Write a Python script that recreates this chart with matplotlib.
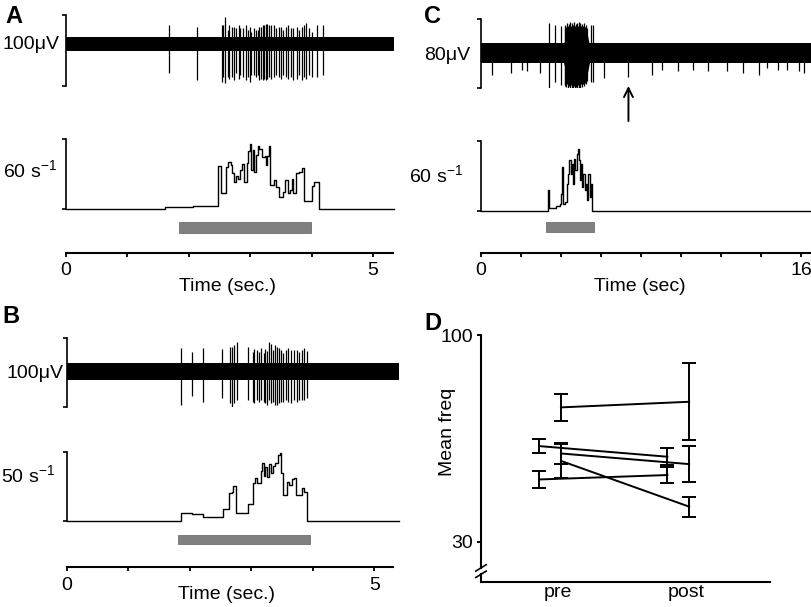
import matplotlib
matplotlib.use('Agg')
import matplotlib.pyplot as plt
from matplotlib.patches import Rectangle
from matplotlib.lines import Line2D
from matplotlib.transforms import blended_transform_factory

plt.rcParams['font.family'] = ['Liberation Sans', 'DejaVu Sans']
plt.rcParams['mathtext.fontset'] = 'custom'
plt.rcParams['mathtext.rm'] = 'Liberation Sans'
plt.rcParams['mathtext.it'] = 'Liberation Sans:italic'
plt.rcParams['mathtext.bf'] = 'Liberation Sans:bold'
plt.rcParams['font.size'] = 14

# ---------------- data ----------------
# Panel A: spikes (time s, peak uV, trough uV), rate steps (s, 1/s), stimulus (s)
spk_A_t = [1.67, 2.13, 2.54, 2.56, 2.59, 2.63, 2.66, 2.70, 2.74, 2.77,
           2.81, 2.84, 2.88, 2.93, 2.96, 3.00, 3.02, 3.06, 3.09, 3.12,
           3.15, 3.18, 3.20, 3.23, 3.26, 3.28, 3.31, 3.34, 3.38, 3.42,
           3.46, 3.50, 3.53, 3.58, 3.62, 3.66, 3.70, 3.76, 3.79, 3.84,
           3.88, 3.91, 3.95, 4.00, 4.08, 4.18]
spk_A_hi = [27, 24, 27, 27, 38, 20, 27, 24, 24, 22, 27, 22, 22, 27, 20, 24,
            17, 22, 20, 20, 24, 24, 27, 27, 28, 28, 27, 27, 27, 22, 24, 24,
            20, 24, 27, 22, 22, 24, 20, 24, 27, 29, 22, 17, 27, 27]
spk_A_lo = [-41, -51, -54, -47, -55, -47, -49, -47, -51, -41, -49, -44, -47,
            -51, -47, -53, -44, -44, -47, -44, -51, -49, -51, -49, -51, -49,
            -47, -49, -47, -44, -47, -49, -44, -47, -49, -47, -51, -49, -44,
            -51, -47, -49, -44, -47, -47, -44]
rate_A_t = [0, 1.61, 2.07, 2.48, 2.52, 2.61, 2.64, 2.68, 2.70, 2.74,
            2.77, 2.80, 2.83, 2.87, 2.90, 2.94, 2.97, 2.99, 3.01, 3.04,
            3.06, 3.09, 3.12, 3.15, 3.19, 3.24, 3.26, 3.28, 3.30, 3.32,
            3.39, 3.42, 3.46, 3.54, 3.57, 3.61, 3.64, 3.68, 3.70, 3.74,
            3.80, 3.84, 3.87, 4.01, 4.04, 4.12, 5.34]
rate_A = [0, 1.7, 2.8, 37, 13.7, 36.4, 40.6, 37.8, 30.8, 23.7,
          28, 25.7, 33.7, 38.5, 23.7, 39.9, 49.4, 56, 33.7, 50.2,
          31.5, 46.5, 54.2, 51.3, 45, 45.6, 37.8, 45.6, 53.6, 20.8,
          25.1, 19.4, 10.8, 15.1, 25.1, 13.7, 16.6, 25.7, 13.7, 30.8,
          32.2, 35.1, 7.1, 20, 23.7, 0, 0]
stim_A = (1.845, 3.985)

# Panel B
spk_B_t = [1.85, 2.03, 2.21, 2.53, 2.65, 2.68, 2.72, 2.76, 2.94, 3.02,
           3.05, 3.09, 3.13, 3.16, 3.20, 3.23, 3.26, 3.29, 3.32, 3.35,
           3.38, 3.41, 3.45, 3.48, 3.52, 3.56, 3.60, 3.65, 3.69, 3.74,
           3.78, 3.82, 3.86, 3.91]
spk_B_hi = [35, 28, 34, 33, 36, 36, 39, 44, 36, 29, 33, 32, 29, 34, 27, 33,
            30, 43, 41, 32, 39, 36, 34, 32, 27, 32, 34, 32, 32, 32, 29, 32,
            35, 30]
spk_B_lo = [-49, -36, -44, -39, -46, -51, -46, -41, -41, -44, -46, -41, -44,
            -41, -44, -46, -49, -41, -46, -44, -49, -49, -46, -44, -44, -41,
            -44, -46, -41, -44, -41, -41, -41, -39]
rate_B_t = [0, 1.86, 2.04, 2.22, 2.54, 2.64, 2.68, 2.71, 2.75, 2.94,
            3.02, 3.06, 3.10, 3.16, 3.18, 3.21, 3.23, 3.25, 3.28, 3.32,
            3.36, 3.39, 3.43, 3.46, 3.48, 3.52, 3.58, 3.62, 3.66, 3.69,
            3.72, 3.82, 3.86, 3.90, 5.40]
rate_B = [0, 5.3, 4.8, 2.9, 8.2, 19.8, 21, 25.4, 5.3, 12.1,
          27.5, 30.7, 27.5, 36.2, 42, 32.4, 39.1, 31.4, 41, 34.3,
          39.6, 41.5, 47.6, 48.8, 34.3, 18.6, 28.3, 25.8, 29.9, 30.7,
          18.6, 23.4, 21, 0, 0]
stim_B = (1.815, 3.956)

# Panel C
spk_C_t = [0.57, 1.48, 2.03, 2.28, 2.95, 3.40, 3.72, 3.98, 4.18, 4.22,
           4.27, 4.32, 4.36, 4.41, 4.46, 4.51, 4.55, 4.60, 4.65, 4.69,
           4.74, 4.79, 4.83, 4.88, 4.93, 4.97, 5.02, 5.07, 5.11, 5.16,
           5.21, 5.25, 5.30, 5.48, 5.60, 6.15, 7.37, 8.53, 9.07, 9.87,
           10.58, 11.37, 12.32, 13.08, 13.92, 14.28, 14.87, 15.28, 15.92, 16.15]
spk_C_hi = [0, 0, 0, 0, 0, 35, 33, 31, 29, 33,
            30, 35, 31, 34, 36, 32, 35, 33, 36, 31,
            34, 35, 32, 36, 33, 35, 31, 34, 32, 35,
            30, 33, 29, 33, 33, 0, 0, 0, 0, 0,
            0, 0, 0, 0, 0, 0, 0, 0, 0, 0]
spk_C_lo = [-25, -23, -19, -21, -23, -40, -33, -37, -38, -36,
            -39, -35, -40, -38, -41, -37, -40, -42, -38, -41,
            -39, -42, -37, -40, -38, -41, -36, -39, -35, -38,
            -34, -36, -32, -33, -33, -29, -27, -25, -19, -21,
            -19, -21, -21, -23, -25, -17, -19, -19, -21, -23]
# dense core of the burst in C (envelope)
env_C_t = [4.12, 4.25, 4.37, 4.53, 4.70, 4.87, 5.03, 5.20, 5.33, 5.42]
env_C_hi = [10, 20, 24, 26, 27, 27, 26, 25, 20, 10]
env_C_lo = [-10, -22, -27, -30, -31, -32, -30, -28, -22, -11]
rate_C_t = [0, 3.33, 3.42, 3.75, 3.95, 4.00, 4.05, 4.12, 4.20, 4.28,
            4.37, 4.42, 4.48, 4.53, 4.58, 4.65, 4.72, 4.78, 4.83, 4.88,
            4.95, 5.00, 5.05, 5.12, 5.18, 5.25, 5.32, 5.37, 5.43, 5.50,
            5.57, 16.5]
rate_C = [0, 18.1, 2.6, 3.7, 6, 14.6, 37.6, 6, 7.5, 23.2,
          31.9, 43.3, 31.9, 40.5, 23.2, 44.8, 34.7, 49.1, 53.4, 43.3,
          26.1, 40.5, 20.4, 31.9, 17.5, 23.2, 8.9, 31.9, 11.8, 23.2,
          0, 0]
stim_C = (3.25, 5.635)
arrow_C_t = 7.37

# Panel D: mean freq pre / post with error
groups = ['pre', 'post']
pre_mean = [75.5, 62.4, 59.9, 57.4, 51.1]
pre_err = [4.6, 2.3, 3.7, 5.8, 2.8]
post_mean = [77.4, 58.8, 56.3, 41.9, 52.6]
post_err = [13.0, 2.8, 6.0, 3.4, 2.7]
x_offset = [0.02, -0.15, 0.02, 0.02, -0.15]

# ---------------- figure ----------------
W, H = 812, 607
fig = plt.figure(figsize=(W / 100, H / 100), dpi=100)


def px_box(x0, x1, y0, y1):
    # pixel box (top-left origin) -> figure fraction
    return [x0 / W, 1 - y1 / H, (x1 - x0) / W, (y1 - y0) / H]


def label(x, y, s, **kw):
    fig.text(x / W, 1 - y / H, s, **kw)


def bar_axes(x0, x1, y0, y1, tmax, ylim):
    # axes whose left spine is a scale bar
    ax = fig.add_axes(px_box(x0, x1, y0, y1))
    ax.set_xlim(0, tmax)
    ax.set_ylim(ylim)
    for s in ('top', 'right', 'bottom'):
        ax.spines[s].set_visible(False)
    ax.spines['left'].set_linewidth(1.2)
    ax.set_xticks([])
    ax.set_yticks(ylim)
    ax.tick_params(axis='y', length=3, width=1.2, labelleft=False)
    ax.patch.set_alpha(0)
    return ax


def raw_trace(ax, tmax, band, spk_t, spk_hi, spk_lo):
    ax.fill_between([0, tmax], -band, band, color='k', lw=0)
    ax.vlines(spk_t, spk_lo, spk_hi, color='k', lw=0.9)


def stim_bar(ax, stim, ytop, ybot):
    tr = blended_transform_factory(ax.transData, fig.transFigure)
    ax.add_patch(Rectangle((stim[0], 1 - ybot / H), stim[1] - stim[0],
                           (ybot - ytop) / H, transform=tr, clip_on=False,
                           facecolor='#808080', edgecolor='#707070', lw=0.6))


def time_axis(x0, x1, y, tmax, ticks, labels, pad):
    ax = fig.add_axes(px_box(x0, x1, y - 10, y))
    ax.set_xlim(0, tmax)
    for s in ('top', 'right', 'left'):
        ax.spines[s].set_visible(False)
    ax.spines['bottom'].set_linewidth(1.5)
    ax.set_yticks([])
    ax.set_xticks(ticks, labels)
    ax.tick_params(axis='x', length=3, width=1.3, pad=pad, labelsize=14)
    ax.patch.set_alpha(0)
    return ax


# ----- A -----
axA = bar_axes(66, 394, 15, 86, 5.34, (-59.2, 40.8))
raw_trace(axA, 5.34, 10.5, spk_A_t, spk_A_hi, spk_A_lo)
axA2 = bar_axes(66, 394, 139, 209.3, 5.34, (0, 60))
axA2.step(rate_A_t, rate_A, where='post', color='k', lw=1.0, clip_on=False)
stim_bar(axA2, stim_A, 222, 232.7)
time_axis(66, 393.3, 253.3, 5.33, range(6), ['0', '', '', '', '', '5'], 3.5)
label(5, 23.3, 'A', fontsize=17, fontweight='bold', va='baseline')
label(60, 49.3, '100μV', ha='right', va='baseline')
label(57, 176.7, '60 s$^{-1}$', ha='right', va='baseline')
label(228, 291, 'Time (sec.)', ha='center', va='baseline')

# ----- B -----
axB = bar_axes(66.7, 399, 338, 406.7, 5.40, (-51.0, 49.1))
raw_trace(axB, 5.40, 12, spk_B_t, spk_B_hi, spk_B_lo)
axB2 = bar_axes(66.7, 399, 451.7, 520.7, 5.40, (0, 50))
axB2.step(rate_B_t, rate_B, where='post', color='k', lw=1.0, clip_on=False)
stim_bar(axB2, stim_B, 535, 544.3)
time_axis(66.7, 392.7, 566.7, 5.30, range(6), ['0', '', '', '', '', '5'], 4.3)
label(2, 323.3, 'B', fontsize=17, fontweight='bold', va='baseline')
label(64, 378.3, '100μV', ha='right', va='baseline')
label(55, 481.7, '50 s$^{-1}$', ha='right', va='baseline')
label(227, 599, 'Time (sec.)', ha='center', va='baseline')

# ----- C -----
axC = bar_axes(481, 811.7, 19, 88.3, 16.53, (-40.4, 39.6))
raw_trace(axC, 16.53, 11.5, spk_C_t, spk_C_hi, spk_C_lo)
axC.fill_between(env_C_t, env_C_lo, env_C_hi, color='k', lw=0)
trC = blended_transform_factory(axC.transData, fig.transFigure)
axC.annotate('', xy=(arrow_C_t, 1 - 86 / H), xytext=(arrow_C_t, 1 - 121 / H),
             xycoords=trC, textcoords=trC, annotation_clip=False,
             arrowprops=dict(arrowstyle='->', lw=1.4, color='k',
                             mutation_scale=16, shrinkA=0, shrinkB=0))
axC2 = bar_axes(481, 811.7, 141, 210.7, 16.53, (0, 60))
axC2.step(rate_C_t, rate_C, where='post', color='k', lw=1.0, clip_on=False)
stim_bar(axC2, stim_C, 221.7, 231.7)
time_axis(481, 810, 253.3, 16.45, range(0, 17, 2),
          ['0', '', '', '', '', '', '', '', '16'], 3.5)
label(424, 23.3, 'C', fontsize=17, fontweight='bold', va='baseline')
label(470, 60, '80μV', ha='right', va='baseline')
label(463, 181.7, '60 s$^{-1}$', ha='right', va='baseline')
label(640, 291, 'Time (sec)', ha='center', va='baseline')

# ----- D -----
axD = fig.add_axes(px_box(481, 770, 335, 581.7))
axD.set_xlim(0.397, 2.65)
axD.set_ylim(16.5, 100)
for i in range(len(pre_mean)):
    xs = [1 + x_offset[i], 2 + x_offset[i]]
    axD.errorbar(xs, [pre_mean[i], post_mean[i]], yerr=[pre_err[i], post_err[i]],
                 color='k', lw=1.4, elinewidth=1.4, capsize=5, capthick=1.4)
for s in ('top', 'right', 'left'):
    axD.spines[s].set_visible(False)
axD.spines['bottom'].set_linewidth(1.5)
axD.set_xticks([1, 2], groups)
axD.tick_params(axis='x', length=0, pad=2, labelsize=14)
axD.set_yticks([30, 100], ['30', '100'])
axD.tick_params(axis='y', length=3, width=1.4, pad=2.5, labelsize=14)
# left axis drawn by hand with a break near the bottom
axD.add_line(Line2D([0, 0], [0.056, 1], transform=axD.transAxes, color='k',
                    lw=1.5, clip_on=False))
axD.add_line(Line2D([0, 0], [0, 0.030], transform=axD.transAxes, color='k',
                    lw=1.5, clip_on=False))
for yb in (0.030, 0.056):
    axD.add_line(Line2D([-0.018, 0.018], [yb - 0.013, yb + 0.013],
                        transform=axD.transAxes, color='k', lw=1.2,
                        clip_on=False))
label(448, 432, 'Mean freq', ha='center', va='center', rotation=90)
label(424, 330, 'D', fontsize=17, fontweight='bold', va='baseline')

fig.savefig('out.png', dpi=100)
